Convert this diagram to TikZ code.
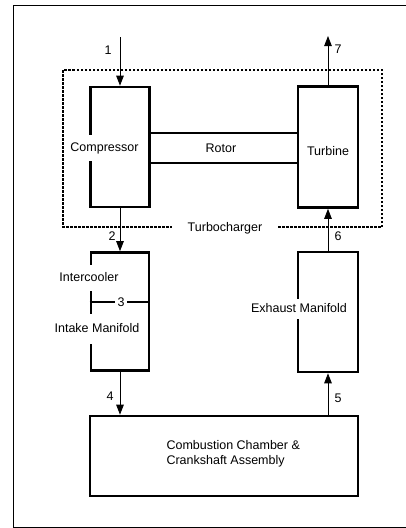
\documentclass[tikz,border=0pt]{standalone}
\usepackage{fontspec}
\setmainfont{Liberation Sans}
\usetikzlibrary{arrows.meta}
\tikzset{
    box/.style={draw, line width=2.6pt, inner sep=0pt},
    lbl/.style={fill=white, inner xsep=2pt, inner ysep=7pt, text height=9pt, text depth=2.5pt},
    num/.style={inner sep=1pt},
    arr/.style={line width=0.9pt, -{Triangle[length=10pt,width=7.5pt]}},
}
\begin{document}
\begin{tikzpicture}[x=1pt, y=-1pt, font=\fontsize{12.5}{15}\selectfont]%[scale = 0.9]
        \useasboundingbox (0,0) rectangle (406,528);
        \draw[line width=1pt](406,5)--(13,5)--(13,527)--(406,527);
        % turbocharger
        \draw[line width=1.2pt, dash pattern=on 2.5pt off 1.5pt](63,70)rectangle(382,227);
        \node[fill=white, inner xsep=16pt, inner ysep=3pt] (tclbl) at (225,228) {Turbocharger};
        \node[box, minimum width=59pt, minimum height=120pt] (comp) at (120,147) {};
        \node[box, minimum width=60pt, minimum height=121pt] (turb) at (328,147) {};
        \draw[line width=1.8pt]([yshift=14pt]comp.east)--([yshift=14pt]turb.west);
        \draw[line width=1.8pt]([yshift=-16pt]comp.east)--([yshift=-16pt]turb.west);
        \node (rotor) at (221,148) {Rotor};
        \node (turbtxt) at (328,151) {Turbine};
        \node[lbl] (comptxt) at (104.5,148) {Compressor};
        % engine side
        \node[box, minimum width=58pt, minimum height=118pt] (intk) at (120,311.5) {};
        \node[box, minimum width=60pt, minimum height=120pt] (exh) at (328,312) {};
        \node[box, minimum width=268pt, minimum height=80pt] (comb) at (224,456) {};
        \draw[line width=2.4pt](intk.west|-0,302)--(intk.east|-0,302);
        \node[fill=white, inner xsep=3pt, inner ysep=1pt] (three) at (121,302) {3};
        \node[lbl] (icool) at (89,278) {Intercooler};
        \node[lbl, inner ysep=9pt] (imani) at (97,329) {Intake Manifold};
        \node[lbl, inner ysep=4pt] (emani) at (299,309) {Exhaust Manifold};
        \node[anchor=west, align=left] (combtxt) at (163,454) {Combustion Chamber \&\\Crankshaft Assembly};
        % flow
        \coordinate (in1) at (120,37);
        \coordinate (out7) at (328,36);
        \draw[arr](in1)--(comp.north);
        \draw[arr](turb.north)--(out7);
        \draw[arr](comp.south)--(intk.north);
        \draw[arr](exh.north)--(turb.south);
        \draw[arr](intk.south)--(intk.south|-comb.north);
        \draw[arr](comb.north-|exh.south)--(exh.south);
        \node[num] (n1) at (108,50) {1};
        \node[num] (n7) at (338,49) {7};
        \node[num] (n2) at (112,236) {2};
        \node[num] (n6) at (338,236) {6};
        \node[num] (n4) at (110,396) {4};
        \node[num] (n5) at (338,398) {5};
    \end{tikzpicture}
\end{document}
